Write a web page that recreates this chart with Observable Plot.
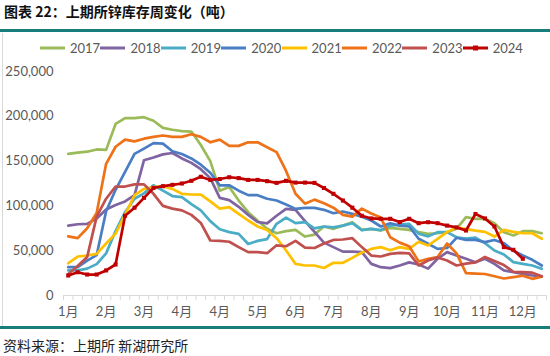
<!DOCTYPE html>
<html>
<head>
<meta charset="utf-8">
<script src="https://cdn.jsdelivr.net/npm/d3@7"></script>
<script src="https://cdn.jsdelivr.net/npm/@observablehq/plot@0.6"></script>
<style>
html,body{margin:0;padding:0;background:#fff;}
#wrap{position:relative;width:550px;height:356px;overflow:hidden;background:#fff;}
#chart{position:absolute;left:0;top:0;}
#title{position:absolute;left:4px;top:1px;font:bold 14px 'Noto Sans CJK SC',sans-serif;color:#111;white-space:nowrap;}
.rule{position:absolute;left:0;width:550px;height:3px;background:#177E7B;}
#frame{position:absolute;left:2px;top:33px;width:1px;height:293px;background:#d9d9d9;}
#legend{position:absolute;left:40px;top:39px;display:flex;font:13px Lato,'Noto Sans CJK SC',sans-serif;color:#595959;}
.item{display:flex;align-items:center;width:60.4px;height:18px;white-space:nowrap;}
.item svg{margin-right:5px;flex:none;}
#source{position:absolute;left:3px;top:335px;font:14px 'Noto Sans CJK SC',sans-serif;color:#222;white-space:nowrap;}
</style>
</head>
<body>
<div id="wrap">
  <div id="chart"></div>
  <div id="title">图表 22：上期所锌库存周变化（吨）</div>
  <div class="rule" style="top:29px"></div>
  <div id="frame"></div>
  <div id="legend"></div>
  <div class="rule" style="top:326px"></div>
  <div id="source">资料来源：上期所 新湖研究所</div>
</div>
<script>
// Month tick labels (one every 4 weeks)
const monthLabels = ["1月","2月","3月","4月","4月","5月","6月","7月","8月","9月","10月","11月","12月"];
const years = ["2017","2018","2019","2020","2021","2022","2023","2024"];
const colors = ["#9BBB59","#8064A2","#4BACC6","#4A7EC4","#FFC000","#EE7218","#C0504D","#C00000"];
const yTicks = [0, 50000, 100000, 150000, 200000, 250000];

// Weekly SHFE zinc inventory (tonnes)
const s2017 = [158000,159500,160500,163000,162500,191500,198000,198000,199000,195000,187000,185000,183500,183000,168000,150000,117000,121000,106000,93000,83500,74500,69500,71800,73300,65800,68000,77000,74400,78000,81800,73300,74400,72500,75500,74400,73300,70700,68800,69500,70700,74400,87400,85600,85600,80700,70700,67000,71800,71800,69500];
const s2018 = [78000,79500,80000,86000,96000,101000,105000,112000,151000,154000,157500,159000,153000,148000,141000,131000,109000,106500,99000,90000,82000,80500,89000,96700,95500,83000,71000,59000,54000,49000,49000,48500,35300,31600,30500,33500,37000,34600,30000,41000,48400,44600,41000,37200,41000,35300,28000,26000,24200,22300,21200];
const s2019 = [28000,28000,30000,35000,47000,72000,93000,108000,114000,123000,117000,111000,109700,102000,95000,83000,74000,70700,68800,57500,61000,63000,80000,87000,80700,81800,75000,77000,76000,78000,80700,73000,74400,73000,78000,79000,80000,69000,66000,70700,70700,65000,63500,64500,58400,50200,45800,37200,35300,33500,29800];
const s2020 = [31600,31600,39000,45000,94000,118000,138000,158000,164000,170000,169500,161000,158000,153000,146000,137000,123000,123000,117000,112000,112000,108000,106000,101600,96700,97800,97800,95600,91800,93700,91100,88000,83700,77000,80700,78000,77000,63300,57700,52000,53000,64400,62000,62000,59500,62000,58400,50000,44600,39800,33500];
const s2021 = [36000,43500,44600,46500,58000,69000,90000,112000,119000,121000,122000,119000,113500,112700,112500,105000,97000,98600,91000,83700,77000,73000,64000,50200,35300,33500,33500,30700,36500,36500,42000,48000,52000,54000,50500,54000,52000,60000,55800,63300,70700,76000,74000,72500,71000,65800,73300,71000,69500,69500,63300];
const s2022 = [66000,64000,75000,92000,147000,166000,174000,172000,175000,177000,178600,177000,177000,180000,177000,171000,174000,167000,167000,171000,171000,165500,160000,139000,113500,102500,107000,103000,98000,90000,88000,97000,91500,87000,65000,59000,55000,38000,41000,43000,58000,47000,25000,24500,24000,21500,19000,20500,22000,18600,21000];
const s2023 = [24000,33000,43000,88000,108000,121600,121600,124000,124000,113500,100000,97000,95000,90000,81000,61400,61000,60000,54000,48400,48400,47200,56000,55000,61000,53500,53000,58000,62000,62500,64000,54000,44600,43500,46500,47500,47000,33500,39000,42500,39000,33500,35500,37000,43000,38500,34000,26500,26000,25500,21500];
const s2024 = [22300,26000,23400,23400,28000,34600,89000,98000,109000,120000,122000,123500,125000,128000,132500,129000,130000,132000,131000,129000,129000,127600,125700,128000,126000,126000,125700,120000,113500,106000,98000,89000,86000,85600,85600,82000,85600,80700,81800,80700,78000,76000,72500,91000,86000,77000,54000,51000,41000];

const seriesValues = [s2017,s2018,s2019,s2020,s2021,s2022,s2023,s2024];
const rows = [];
seriesValues.forEach((vals, k) => vals.forEach((v, i) => rows.push({year: years[k], week: i, value: v})));
const rows2024 = rows.filter(d => d.year === "2024");
const nWeeks = s2017.length;
const tickEdges = d3.range(nWeeks + 1).map(i => i - 0.5);
const labelWeeks = monthLabels.map((_, k) => k * 4);

const chart = Plot.plot({
  width: 550,
  height: 356,
  marginTop: 71,
  marginBottom: 61,
  marginLeft: 63,
  marginRight: 4,
  style: {fontFamily: "Lato, 'Noto Sans CJK SC', sans-serif", fontSize: "13px", color: "#595959", background: "transparent", overflow: "visible"},
  x: {domain: [-0.5, nWeeks - 0.5]},
  y: {domain: [0, 250000]},
  color: {domain: years, range: colors},
  marks: [
    Plot.axisY({ticks: yTicks, tickSize: 0, tickPadding: 10, tickFormat: d3.format(","), label: null, fill: "#595959"}),
    Plot.axisX({ticks: tickEdges, tickSize: 5, tickFormat: () => "", label: null, stroke: "#d9d9d9"}),
    Plot.axisX({ticks: labelWeeks, tickSize: 0, tickPadding: 11, tickFormat: d => monthLabels[d / 4], label: null, fill: "#595959"}),
    Plot.ruleY([0], {stroke: "#d9d9d9", strokeWidth: 1}),
    Plot.line(rows, {x: "week", y: "value", z: "year", stroke: "year", strokeWidth: 2.7, strokeLinejoin: "round", strokeLinecap: "round"}),
    Plot.dot(rows2024, {x: "week", y: "value", symbol: "square", r: 2.3, fill: "#C00000", stroke: "none"})
  ]
});
document.getElementById("chart").appendChild(chart);

// Legend
const legend = d3.select("#legend");
years.forEach((y, k) => {
  const item = legend.append("div").attr("class", "item");
  const svg = item.append("svg").attr("width", 25).attr("height", 10);
  svg.append("line").attr("x1", 0).attr("x2", 25).attr("y1", 5).attr("y2", 5)
    .attr("stroke", colors[k]).attr("stroke-width", 3);
  if (y === "2024") {
    svg.append("rect").attr("x", 10).attr("y", 2.5).attr("width", 5).attr("height", 5).attr("fill", colors[k]);
  }
  item.append("span").text(y);
});
</script>
</body>
</html>
